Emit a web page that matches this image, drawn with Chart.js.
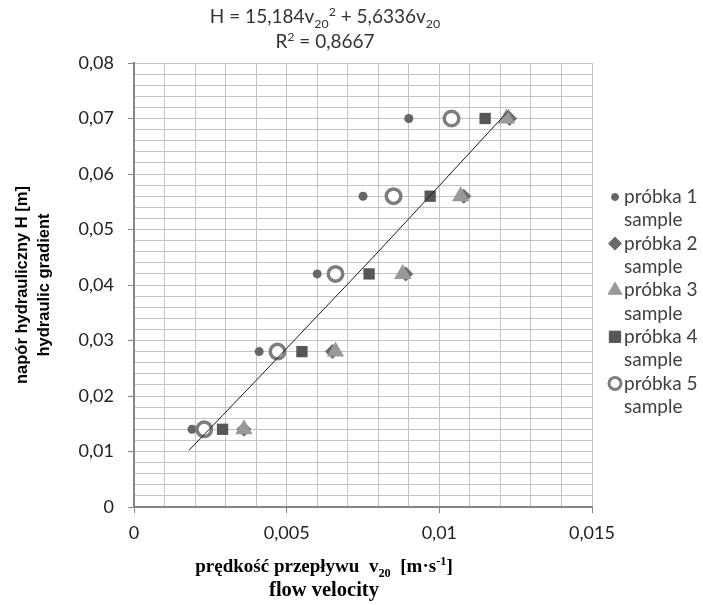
<!DOCTYPE html>
<html>
<head>
<meta charset="utf-8">
<script src="https://cdn.jsdelivr.net/npm/chart.js@4"></script>
<style>
  body { margin: 0; background: #fff; }
  #wrap { position: relative; width: 703px; height: 605px; }
  #eq { position: absolute; left: 0; top: 3px; width: 650px; text-align: center;
        font-family: Lato, sans-serif; font-size: 19px; color: #333; line-height: 25px; }
  #xt { position: absolute; left: 0; top: 554px; width: 648px; text-align: center;
        font-family: "Liberation Serif", serif; font-weight: bold; color: #000; line-height: 23px; }
  #xt .l1 { font-size: 19px; }
  #xt .l2 { font-size: 20.5px; }
  sub, sup { font-size: 65%; line-height: 0; }
</style>
</head>
<body>
<div id="wrap">
  <canvas id="chart" width="703" height="605"></canvas>
  <div id="eq">H = 15,184v<sub>20</sub><sup>2</sup> + 5,6336v<sub>20</sub><br>R<sup>2</sup> = 0,8667</div>
  <div id="xt"><span class="l1">prędkość przepływu &nbsp;v<sub>20</sub> &nbsp;[m·s<sup>-1</sup>]</span><br><span class="l2">flow velocity</span></div>
</div>
<script>
// --- Data ---
const headLevels = [0.014, 0.028, 0.042, 0.056, 0.07];          // H [m]
const sample1V = [0.0019, 0.0041, 0.0060, 0.0075, 0.0090];
const sample2V = [0.0036, 0.0065, 0.0089, 0.0108, 0.0123];
const sample3V = [0.0036, 0.0066, 0.0088, 0.0107, 0.0122];
const sample4V = [0.0029, 0.0055, 0.0077, 0.0097, 0.0115];
const sample5V = [0.0023, 0.0047, 0.0066, 0.0085, 0.0104];
const trendV = [0.0018, 0.004, 0.006, 0.008, 0.010, 0.0123];
const trendH = [0.0102, 0.0228, 0.0344, 0.0460, 0.0579, 0.0716];
const seriesNames = ['próbka 1', 'próbka 2', 'próbka 3', 'próbka 4', 'próbka 5'];
const seriesSub = 'sample';
const xMajorLabels = ['0', '0,005', '0,01', '0,015'];
const yMajorLabels = ['0', '0,01', '0,02', '0,03', '0,04', '0,05', '0,06', '0,07', '0,08'];

const toPoints = (xs, ys) => xs.map((x, i) => ({ x: x, y: ys[i] }));

// marker looks, chart and legend
const markers = [
    { style: 'circle',   color: '#666666', r: 4.5, lr: 3.5, bw: 0 },
    { style: 'rectRot',  color: '#6b6b6b', r: 7.5, lr: 6.5, bw: 0 },
    { style: 'triangle', color: '#999999', r: 10,  lr: 8,   bw: 0 },
    { style: 'rect',     color: '#575757', r: 8,   lr: 8,   bw: 0 },
    { style: 'circle',   color: '#7d7d7d', r: 7.25, lr: 6,  bw: 3.5, hollow: true }
];
const sampleData = [sample1V, sample2V, sample3V, sample4V, sample5V];

const datasets = sampleData.map((xs, i) => ({
    label: seriesNames[i],
    data: toPoints(xs, headLevels),
    pointStyle: markers[i].style,
    pointRadius: markers[i].r,
    pointBackgroundColor: markers[i].hollow ? '#ffffff' : markers[i].color,
    pointBorderColor: markers[i].color,
    pointBorderWidth: markers[i].bw,
    showLine: false,
    order: 6 - i
}));
datasets.push({
    label: 'trend',
    data: toPoints(trendV, trendH),
    showLine: true,
    borderColor: '#1a1a1a',
    borderWidth: 1,
    pointRadius: 0,
    cubicInterpolationMode: 'monotone',
    order: 0
});

// --- custom legend on the right (two-line labels) ---
const sideLegend = {
    id: 'sideLegend',
    afterDraw(chart) {
        const ctx = chart.ctx;
        ctx.save();
        ctx.font = '19px Lato';
        ctx.textBaseline = 'middle';
        const x0 = 615, tx = 624, y0 = 197, lh = 23.3;
        seriesNames.forEach((name, i) => {
            const m = markers[i];
            const y = y0 + i * 2 * lh;
            ctx.fillStyle = m.hollow ? '#ffffff' : m.color;
            ctx.strokeStyle = m.color;
            ctx.lineWidth = m.hollow ? 3 : 0;
            Chart.helpers.drawPoint(ctx, { pointStyle: m.style, radius: m.lr, borderWidth: ctx.lineWidth }, x0, y);
            ctx.fillStyle = '#404040';
            ctx.fillText(name, tx, y);
            ctx.fillText(seriesSub, tx, y + lh);
        });
        ctx.restore();
    }
};

const isMajor = (v, unit) => Math.abs(Math.round(v / unit) - v / unit) < 1e-6;

new Chart(document.getElementById('chart'), {
    type: 'scatter',
    data: { datasets: datasets },
    plugins: [sideLegend],
    options: {
        responsive: false,
        animation: false,
        layout: { padding: { left: 0, top: 63, right: 111, bottom: 58 } },
        plugins: { legend: { display: false }, tooltip: { enabled: false } },
        scales: {
            x: {
                type: 'linear', min: 0, max: 0.015,
                afterFit: s => { s.height = 40; },
                ticks: {
                    stepSize: 0.001, autoSkip: false, maxRotation: 0,
                    padding: 9,
                    font: { family: 'Lato', size: 18 }, color: '#222',
                    callback: v => isMajor(v, 0.005) ? xMajorLabels[Math.round(v / 0.005)] : ''
                },
                grid: {
                    color: '#c4c4c4', lineWidth: 1, tickLength: 6,
                    tickColor: c => isMajor(c.tick.value, 0.005) ? '#868686' : 'rgba(0,0,0,0)'
                },
                border: { color: '#868686', width: 2 }
            },
            y: {
                type: 'linear', min: 0, max: 0.08,
                afterFit: s => { s.width = 134; },
                ticks: {
                    stepSize: 0.002, autoSkip: false,
                    padding: 14,
                    font: { family: 'Lato', size: 18 }, color: '#222',
                    callback: v => isMajor(v, 0.01) ? yMajorLabels[Math.round(v / 0.01)] : ''
                },
                grid: {
                    color: '#c4c4c4', lineWidth: 1, tickLength: 6,
                    tickColor: c => isMajor(c.tick.value, 0.01) ? '#868686' : 'rgba(0,0,0,0)'
                },
                border: { color: '#868686', width: 2 },
                title: {
                    display: true,
                    text: ['napór hydrauliczny H [m]', 'hydraulic gradient'],
                    font: { family: 'Liberation Sans', weight: 'bold', size: 16.5, lineHeight: 1.3 },
                    color: '#000',
                    padding: { top: 12, bottom: 0 }
                }
            }
        }
    }
});
</script>
</body>
</html>
